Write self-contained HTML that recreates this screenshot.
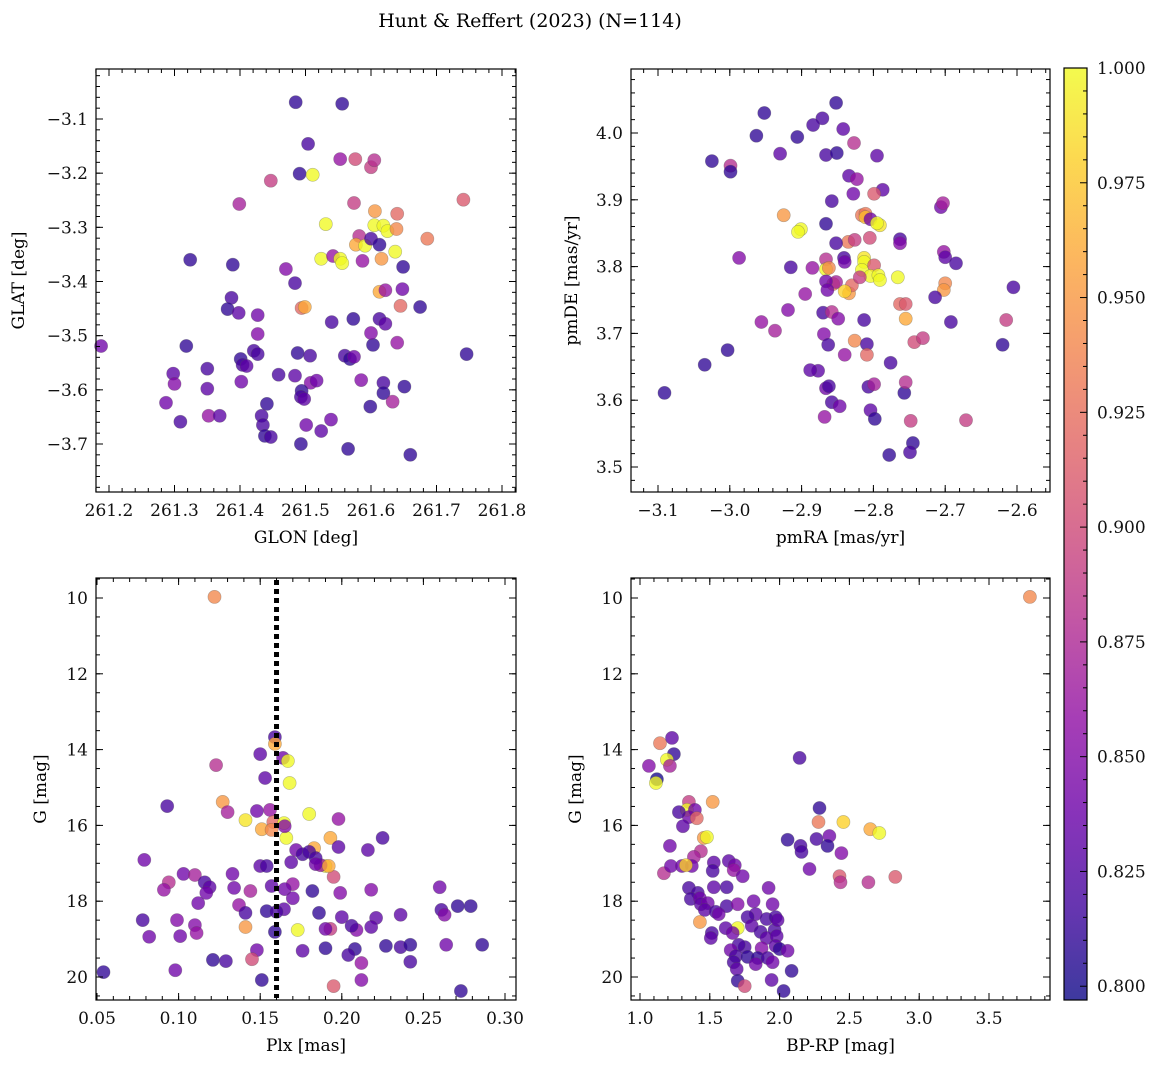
<!DOCTYPE html>
<html><head><meta charset="utf-8">
<style>
html,body{margin:0;padding:0;background:#fff;}
svg{display:block;font-family:"DejaVu Serif","Liberation Serif",serif;}
</style></head>
<body>
<svg id="fig" width="1161" height="1068" viewBox="0 0 1161 1068" xmlns="http://www.w3.org/2000/svg">
<text x="530" y="27" text-anchor="middle" font-size="19">Hunt &amp; Reffert (2023) (N=114)</text>
</svg>
<script>
// ---- Panel 1: GLON / GLAT ----
const p1Glon=[261.485,261.556,261.504,261.491,261.511,261.553,261.576,261.600,261.605,261.741,261.447,261.399,261.574,261.606,261.640,261.531,261.605,261.619,261.625,261.639,261.686,261.582,261.577,261.591,261.600,261.613,261.637,261.524,261.542,261.553,261.556,261.587,261.616,261.649,261.324,261.389,261.470,261.484,261.613,261.622,261.648,261.387,261.381,261.398,261.427,261.494,261.499,261.540,261.573,261.613,261.622,261.645,261.675,261.746,261.427,261.188,261.318,261.421,261.427,261.401,261.404,261.410,261.488,261.507,261.560,261.568,261.574,261.603,261.600,261.640,261.298,261.350,261.402,261.459,261.484,261.508,261.517,261.585,261.619,261.619,261.651,261.300,261.350,261.287,261.441,261.494,261.493,261.498,261.599,261.633,261.352,261.369,261.433,261.309,261.501,261.524,261.539,261.435,261.438,261.493,261.565,261.660,261.447];
const p1Glat=[-3.069,-3.072,-3.146,-3.201,-3.203,-3.174,-3.174,-3.189,-3.176,-3.249,-3.214,-3.257,-3.255,-3.270,-3.275,-3.294,-3.296,-3.297,-3.307,-3.303,-3.321,-3.316,-3.332,-3.334,-3.321,-3.332,-3.345,-3.358,-3.353,-3.358,-3.366,-3.362,-3.358,-3.373,-3.360,-3.369,-3.377,-3.403,-3.419,-3.416,-3.414,-3.430,-3.451,-3.458,-3.462,-3.449,-3.447,-3.475,-3.469,-3.469,-3.478,-3.445,-3.447,-3.534,-3.497,-3.519,-3.519,-3.528,-3.534,-3.543,-3.554,-3.556,-3.532,-3.537,-3.537,-3.543,-3.539,-3.517,-3.495,-3.513,-3.570,-3.561,-3.585,-3.572,-3.574,-3.587,-3.583,-3.582,-3.587,-3.606,-3.594,-3.589,-3.598,-3.624,-3.626,-3.602,-3.613,-3.617,-3.631,-3.622,-3.648,-3.648,-3.648,-3.659,-3.665,-3.676,-3.655,-3.665,-3.685,-3.700,-3.709,-3.720,-3.687];
const p1Prob=[.81,.81,.82,.81,1.0,.86,.90,.89,.88,.91,.89,.87,.89,.95,.92,1.0,1.0,1.0,1.0,.94,.93,.88,.96,1.0,.82,.81,1.0,1.0,.86,1.0,1.0,.86,.95,.81,.81,.81,.85,.82,.96,.86,.84,.82,.81,.83,.84,.92,.96,.82,.81,.82,.83,.92,.81,.81,.85,.84,.81,.82,.82,.81,.82,.83,.81,.82,.82,.81,.84,.81,.85,.86,.83,.82,.84,.82,.83,.85,.84,.85,.82,.81,.81,.85,.83,.84,.81,.81,.82,.83,.81,.87,.86,.83,.82,.82,.84,.83,.84,.82,.81,.81,.81,.81,.82];
// ---- Panel 2: pmRA / pmDE ----
const p2Pmra=[-2.852,-2.871,-2.952,-2.884,-2.842,-2.963,-2.906,-3.025,-2.999,-2.999,-2.930,-2.866,-2.851,-2.827,-2.795,-2.834,-2.823,-2.787,-2.799,-2.858,-2.828,-2.706,-2.703,-2.925,-2.901,-2.905,-2.866,-2.816,-2.811,-2.811,-2.804,-2.791,-2.795,-2.835,-2.841,-2.840,-2.852,-2.826,-2.805,-2.763,-2.763,-2.987,-2.915,-2.866,-2.866,-2.813,-2.813,-2.816,-2.799,-2.702,-2.700,-2.685,-2.885,-2.862,-2.856,-2.852,-2.834,-2.830,-2.840,-2.804,-2.793,-2.791,-2.766,-2.819,-2.700,-2.702,-2.895,-2.866,-2.864,-2.714,-2.763,-2.755,-2.919,-2.870,-2.858,-2.849,-2.813,-2.755,-2.956,-2.869,-2.743,-2.731,-2.692,-2.615,-2.937,-2.863,-2.826,-2.809,-2.809,-2.840,-3.003,-3.035,-2.877,-2.776,-2.620,-2.605,-2.888,-2.866,-2.862,-2.757,-2.755,-2.807,-2.799,-3.091,-2.858,-2.847,-2.804,-2.798,-2.868,-2.748,-2.671,-2.745,-2.778,-2.749];
const p2Pmde=[4.045,4.022,4.030,4.012,4.006,3.996,3.994,3.958,3.951,3.942,3.969,3.967,3.970,3.985,3.966,3.936,3.931,3.915,3.909,3.898,3.909,3.889,3.895,3.877,3.856,3.852,3.864,3.877,3.879,3.874,3.871,3.862,3.865,3.837,3.813,3.807,3.835,3.840,3.843,3.841,3.835,3.813,3.799,3.811,3.796,3.813,3.807,3.795,3.802,3.822,3.814,3.805,3.798,3.798,3.774,3.777,3.760,3.772,3.763,3.786,3.787,3.780,3.784,3.784,3.775,3.765,3.759,3.778,3.765,3.754,3.744,3.744,3.735,3.731,3.732,3.722,3.720,3.722,3.717,3.699,3.687,3.693,3.717,3.720,3.704,3.683,3.689,3.684,3.668,3.668,3.675,3.653,3.644,3.656,3.683,3.769,3.645,3.618,3.621,3.611,3.627,3.620,3.624,3.611,3.597,3.591,3.585,3.572,3.575,3.569,3.570,3.536,3.518,3.522];
const p2Prob=[.81,.82,.81,.82,.83,.81,.81,.81,.88,.81,.83,.82,.81,.88,.83,.83,.86,.83,.91,.82,.84,.84,.87,.95,1.0,1.0,.81,.93,.93,.97,.84,.99,1.0,.93,.82,.84,.82,.89,.90,.82,.85,.85,.82,.88,1.0,.99,1.0,1.0,.91,.86,.83,.82,.86,.94,.93,.87,.95,.92,.98,1.0,1.0,1.0,1.0,.89,.94,.95,.86,.84,.84,.82,.92,.91,.85,.82,.88,.85,.82,.96,.86,.85,.90,.89,.82,.89,.87,.82,.94,.82,.92,.86,.81,.81,.83,.82,.81,.82,.83,.84,.82,.81,.88,.82,.87,.81,.82,.84,.83,.81,.86,.89,.89,.81,.81,.82];
// ---- Panel 3: Plx / G ----
const p3Plx=[0.122,0.159,0.159,0.150,0.153,0.164,0.167,0.168,0.123,0.093,0.127,0.130,0.180,0.198,0.141,0.148,0.156,0.158,0.151,0.157,0.1646,0.166,0.193,0.165,0.172,0.176,0.183,0.190,0.187,0.180,0.184,0.198,0.216,0.225,0.079,0.103,0.110,0.133,0.150,0.154,0.169,0.170,0.184,0.195,0.192,0.094,0.116,0.119,0.134,0.144,0.117,0.091,0.112,0.137,0.157,0.165,0.170,0.182,0.199,0.218,0.1646,0.141,0.154,0.160,0.186,0.200,0.221,0.236,0.260,0.261,0.263,0.271,0.279,0.218,0.209,0.099,0.110,0.101,0.111,0.141,0.159,0.173,0.193,0.206,0.190,0.078,0.082,0.148,0.190,0.208,0.227,0.236,0.242,0.264,0.121,0.129,0.145,0.151,0.212,0.212,0.195,0.242,0.054,0.098,0.204,0.286,0.273,0.176];
const p3G=[9.97,13.67,13.85,14.12,14.75,14.22,14.30,14.88,14.41,15.49,15.38,15.65,15.70,15.83,15.86,15.62,15.59,15.91,16.10,16.12,15.94,16.33,16.33,16.02,16.65,16.76,16.60,17.07,17.05,16.70,16.86,16.57,16.65,16.33,16.91,17.28,17.31,17.28,17.07,17.07,16.97,17.55,17.02,17.36,17.07,17.50,17.50,17.63,17.65,17.73,17.78,17.70,18.05,18.10,17.60,17.68,17.92,17.73,17.78,17.70,18.21,18.31,18.26,18.28,18.31,18.42,18.44,18.36,17.63,18.23,18.36,18.13,18.13,18.68,18.76,18.50,18.63,18.92,18.84,18.68,18.81,18.76,18.73,18.65,18.73,18.50,18.94,19.29,19.24,19.26,19.18,19.21,19.15,19.15,19.55,19.58,19.53,20.08,19.63,20.08,20.24,19.60,19.87,19.82,19.42,19.15,20.37,19.31];
const p3Prob=[.94,.82,.96,.83,.83,.84,1.0,1.0,.88,.82,.95,.87,1.0,.86,.99,.84,.86,.92,.96,.94,1.0,1.0,.96,.85,.84,.82,.96,1.0,.86,.82,.82,.83,.83,.82,.84,.84,.87,.84,.83,.82,.83,.86,.84,.90,.96,.88,.82,.83,.84,.87,.84,.86,.84,.86,.83,.84,.84,.81,.85,.85,.83,.82,.81,.82,.81,.83,.83,.83,.84,.82,.85,.81,.81,.83,.85,.85,.85,.84,.86,.95,.81,1.0,.89,.82,.84,.82,.84,.84,.81,.81,.81,.82,.81,.84,.81,.82,.90,.81,.86,.85,.91,.82,.81,.84,.82,.81,.81,.83];
// ---- Panel 4: BP-RP / G ----
const p4Bprp=[3.793,1.143,1.229,1.243,1.193,1.214,1.064,1.121,1.114,2.143,1.350,1.336,1.521,1.393,1.350,1.407,1.457,1.479,1.307,1.279,2.286,2.264,2.357,2.443,2.279,2.457,2.650,2.714,2.343,2.057,2.150,2.157,1.214,1.436,1.386,1.171,1.221,1.300,1.371,1.529,1.636,1.679,1.329,1.521,1.671,1.736,2.214,2.429,2.636,2.829,2.436,1.350,1.414,1.529,1.621,1.921,1.364,1.429,1.436,1.486,1.464,1.543,1.621,1.700,1.814,1.950,1.564,1.829,1.771,1.907,1.971,1.429,1.700,1.514,1.614,1.664,1.800,1.864,1.964,1.986,1.907,1.979,1.750,1.871,1.971,2.000,1.507,1.707,2.057,1.650,1.686,1.771,1.843,1.914,1.671,1.693,1.829,1.950,2.086,1.943,1.700,1.750,2.029];
const p4G=[9.97,13.83,13.69,14.12,14.27,14.43,14.43,14.78,14.88,14.22,15.38,15.59,15.38,15.59,15.78,15.81,16.33,16.31,16.02,15.65,15.54,16.36,16.28,16.73,15.91,15.91,16.10,16.20,16.54,16.38,16.54,16.70,16.54,16.68,16.83,17.26,17.07,17.07,17.07,16.98,16.94,17.05,17.05,17.20,17.18,17.34,17.15,17.34,17.50,17.36,17.50,17.65,17.78,17.63,17.63,17.65,17.94,17.92,18.08,18.05,18.23,18.28,18.13,18.08,18.00,18.08,18.34,18.34,18.42,18.47,18.42,18.55,18.71,18.84,18.71,18.84,18.65,18.81,18.76,18.50,18.97,18.92,19.21,19.24,19.18,19.26,18.97,19.15,19.31,19.29,19.45,19.47,19.50,19.50,19.61,19.79,19.66,19.61,19.84,20.08,20.10,20.24,20.37];
const p4Prob=[.94,.93,.83,.81,1.0,.87,.85,.80,1.0,.82,.89,1.0,.95,.84,.84,.92,.95,1.0,.83,.82,.81,.82,.84,.85,.93,.98,.96,1.0,.81,.81,.82,.82,.84,.88,.87,.88,.84,.84,.84,.83,.83,.84,.98,.82,.86,.84,.84,.91,.88,.91,.88,.82,.82,.83,.82,.84,.82,.84,.83,.84,.83,.82,.82,.85,.84,.84,.84,.83,.82,.82,.82,.95,1.0,.82,.83,.84,.83,.82,.82,.83,.83,.83,.82,.85,.83,.81,.83,.82,.84,.84,.82,.81,.81,.82,.82,.83,.84,.84,.81,.83,.81,.90,.81];
const cbTicks=[0.800,0.825,0.850,0.875,0.900,0.925,0.950,0.975,1.000];
const plxCut=0.160;

const NS='http://www.w3.org/2000/svg';
const svg=document.getElementById('fig');
const VMIN=0.797,VMAX=1.0;
const PL=['#0d0887','#41049d','#6a00a8','#8f0da4','#b12a90','#cc4778','#e16462','#f2844b','#fca636','#fcce25','#f0f921'];
function hex(h){return[parseInt(h.substr(1,2),16),parseInt(h.substr(3,2),16),parseInt(h.substr(5,2),16)];}
function plasma(t){t=Math.max(0,Math.min(1,t));const f=t*10,i=Math.min(9,Math.floor(f)),r=f-i;const a=hex(PL[i]),b=hex(PL[i+1]);return 'rgb('+a.map((v,k)=>Math.round(v+(b[k]-v)*r)).join(',')+')';}
function cmap(p){return plasma((p-VMIN)/(VMAX-VMIN));}
function mk(tag,attrs,parent){const e=document.createElementNS(NS,tag);for(const k in attrs)e.setAttribute(k,attrs[k]);(parent||svg).appendChild(e);return e;}
function lin(d0,d1,r0,r1){return v=>r0+(v-d0)*(r1-r0)/(d1-d0);}
function fmt(v,dec){const s=Math.abs(v).toFixed(dec);return (v<-1e-9?'\u2212':'')+s;}

function panel(cfg){
  const g=mk('g',{});
  
  
  const [L,T,R,B]=cfg.box;
  const sx=lin(cfg.xd[0],cfg.xd[1],cfg.xr[0],cfg.xr[1]);
  const sy=lin(cfg.yd[0],cfg.yd[1],cfg.yr[0],cfg.yr[1]);
  const pg=mk('g',{},g);
  
  
  for(let i=0;i<cfg.x.length;i++){
    const c=mk('circle',{cx:sx(cfg.x[i]).toFixed(1),cy:sy(cfg.y[i]).toFixed(1),r:6.6,fill:cmap(cfg.c[i]),'fill-opacity':0.78,stroke:'#555','stroke-opacity':0.4,'stroke-width':0.6},pg);
    
    
  }
  if(cfg.after)cfg.after(g,sx,sy);
  const fr=mk('rect',{x:L,y:T,width:R-L,height:B-T,fill:'none',stroke:'#000','stroke-width':1.2},g);
  
  
  const tg=mk('g',{stroke:'#000','stroke-width':1},g);
  const lg=mk('g',{'font-size':17,fill:'#111'},g);
  function ticksX(step,len,label){
    const n0=Math.ceil((cfg.xd[0]-5*step)/step),n1=Math.floor((cfg.xd[1]+5*step)/step);
    for(let n=n0;n<=n1;n++){const v=n*step,x=sx(v);if(x<L-0.5||x>R+0.5)continue;
      mk('line',{x1:x,x2:x,y1:B,y2:B-len},tg);mk('line',{x1:x,x2:x,y1:T,y2:T+len},tg);
      if(label){const t=mk('text',{x:x,y:B+24,'text-anchor':'middle'},lg);t.textContent=fmt(v,cfg.xdec);
        }}
  }
  function ticksY(step,len,label){
    const lo=Math.min(cfg.yd[0],cfg.yd[1]),hi=Math.max(cfg.yd[0],cfg.yd[1]);
    const n0=Math.ceil((lo-6*step)/step),n1=Math.floor((hi+6*step)/step);
    for(let n=n0;n<=n1;n++){const v=n*step,y=sy(v);if(y<T+0.5||y>B-0.5)continue;
      mk('line',{x1:L,x2:L+len,y1:y,y2:y},tg);mk('line',{x1:R,x2:R-len,y1:y,y2:y},tg);
      if(label){const t=mk('text',{x:L-8,y:y+6,'text-anchor':'end'},lg);t.textContent=fmt(v,cfg.ydec);
        }}
  }
  ticksX(cfg.xmaj,7,true);ticksX(cfg.xmin,4,false);
  ticksY(cfg.ymaj,7,true);ticksY(cfg.ymin,4,false);
  const xt=mk('text',{x:(L+R)/2,y:B+51,'text-anchor':'middle','font-size':17},g);
  xt.textContent=cfg.xlabel;
  
  
  const yt=mk('text',{x:cfg.ylx,y:(T+B)/2,'text-anchor':'middle','font-size':17,transform:'rotate(-90 '+cfg.ylx+' '+((T+B)/2)+')'},g);
  yt.textContent=cfg.ylabel;
  
  
}

panel({name:'glon-glat-panel',box:[96,69,516,492],xd:[261.2,261.8],xr:[109,502],yd:[-3.1,-3.7],yr:[119,444],
  xmaj:0.1,xmin:0.02,ymaj:0.1,ymin:0.02,xdec:1,ydec:1,x:p1Glon,y:p1Glat,c:p1Prob,xlabel:'GLON [deg]',ylabel:'GLAT [deg]',ylx:24});
panel({name:'proper-motion-panel',box:[631,69,1050,492],xd:[-3.1,-2.6],xr:[658,1017],yd:[4.0,3.5],yr:[133,467],
  xmaj:0.1,xmin:0.02,ymaj:0.1,ymin:0.02,xdec:1,ydec:1,x:p2Pmra,y:p2Pmde,c:p2Prob,xlabel:'pmRA [mas/yr]',ylabel:'pmDE [mas/yr]',ylx:577});
panel({name:'parallax-panel',box:[96,578,516,1000],xd:[0.05,0.30],xr:[97,505],yd:[10,20],yr:[598,977],
  xmaj:0.05,xmin:0.01,ymaj:2,ymin:0.5,xdec:2,ydec:0,x:p3Plx,y:p3G,c:p3Prob,xlabel:'Plx [mas]',ylabel:'G [mag]',ylx:46,
  after:(g,sx,sy)=>{const l=mk('line',{x1:sx(plxCut),x2:sx(plxCut),y1:580,y2:998,stroke:'#000','stroke-width':5,'stroke-dasharray':'5 4'},g);
    
    }});
panel({name:'cmd-panel',box:[631,578,1050,1000],xd:[1.0,3.5],xr:[640,989],yd:[10,20],yr:[598,977],
  xmaj:0.5,xmin:0.1,ymaj:2,ymin:0.5,xdec:1,ydec:0,x:p4Bprp,y:p4G,c:p4Prob,xlabel:'BP-RP [mag]',ylabel:'G [mag]',ylx:581});

(function(){
  const g=mk('g',{});
  
  
  const defs=mk('defs',{},g);
  const lg=mk('linearGradient',{id:'cbg',x1:0,y1:1,x2:0,y2:0},defs);
  for(let i=0;i<=20;i++){mk('stop',{offset:(i/20),'stop-color':plasma(i/20),'stop-opacity':0.8},lg);}
  const T=68,B=1000,L=1064,R=1087;
  mk('rect',{x:L,y:T,width:R-L,height:B-T,fill:'url(#cbg)',stroke:'#000','stroke-width':1.2},g);
  const sy=lin(VMIN,VMAX,B,T);
  for(let k=0;k<=40;k++){const v=0.8+k*0.005;const y=sy(v);const maj=(k%5===0);
    mk('line',{x1:R,x2:R-(maj?7:4),y1:y,y2:y,stroke:'#000','stroke-width':1},g);}
  cbTicks.forEach(v=>{const t=mk('text',{x:R+10,y:sy(v)+6,'font-size':17,fill:'#111'},g);t.textContent=v.toFixed(3);
    
    });
})();
</script>
</body></html>
